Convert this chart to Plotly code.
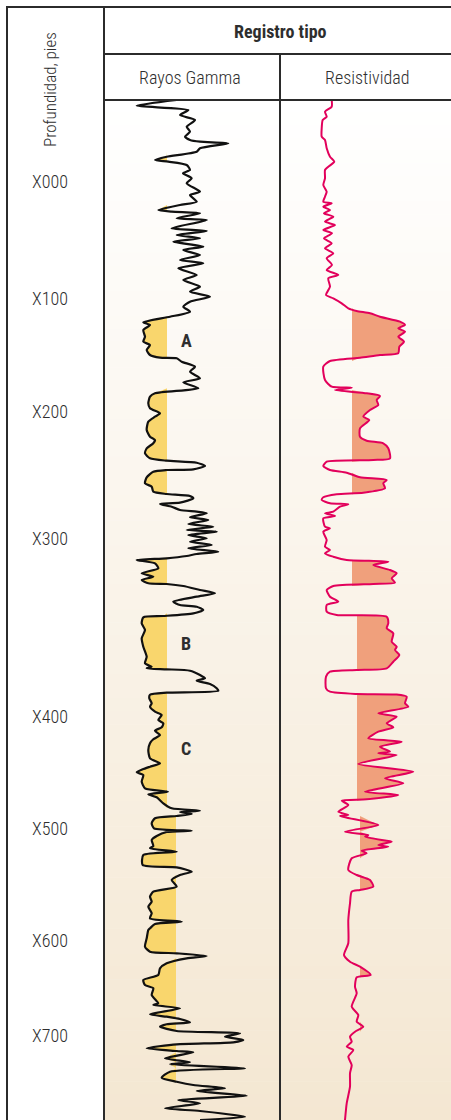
import plotly.graph_objects as go

# ---------------- data (depth in chart units, values in track units) ----------------
gr_depth = [0, 5.7, 10, 15, 20, 26.7, 31.7, 36.7, 40, 41.7, 43.3, 48.3, 51.7, 56.7, 60, 61.7, 65, 70, 73.3, 78.3,
            83.3, 91.7, 95, 101.7, 105, 110, 111.7, 113.3, 118.3, 120, 128.3, 131, 135, 138.3, 141.7, 146.7, 150,
            155, 160, 163.3, 168.3, 175, 180, 186.7, 191.7, 196.7, 201.7, 206.7, 211.7, 216.7, 222.3, 225, 230,
            236.7, 241.7, 245, 250, 255, 257.7, 258.3, 261.7, 266.7, 271.7, 278.3, 282.3, 288.3,
            293.3, 296.7, 303.3, 308.3, 313.3, 316.7, 321.7, 330, 336.7, 340, 343.3, 348.3, 353.3, 358.3, 360.7,
            362.7, 366, 369.3, 370, 371.7, 377.3, 383.3, 386.7, 391.7, 394, 396, 398.3, 402.7, 404, 406.7, 410,
            411.7, 413.3, 417.3, 420, 424, 426.7, 430, 431.7, 435, 438.3, 441.7, 445, 448.3, 451.7, 454, 456,
            458.3, 460, 463.3, 468.3, 473.3, 476.7, 480, 483.3, 484, 486, 490, 493.3, 496.7, 501.7, 505, 506.7,
            510, 513.3, 516, 517.3, 523.3, 530, 538.3, 546.7, 556.7, 563.3, 566.7, 568.3, 569.3, 570.7, 575,
            578.3, 580.7, 584, 588.3,
            590.7, 592.7, 594.7, 598.3, 603.3, 606.7, 611.7, 615, 620, 623.3, 627.3, 630.7, 635, 639.3, 643.3,
            650, 658.3, 663.3, 666.7, 669.3, 672.3, 675, 681.7, 688.3, 691.7, 694.3, 697.3, 703.3, 708.3, 710.7,
            712, 714, 716, 718.3, 723.3, 728.3, 730.7, 732, 736, 740, 746, 748.3, 751.7, 755, 765, 767.3, 771.7,
            775, 780, 786.7, 791.7, 796.7, 801.7, 806.7, 813.3, 818.3, 821.7, 824, 828.3,
            830, 838.3, 846.7, 851.7, 853.3, 856, 858.3, 863.3, 868.3, 875, 880, 885, 888.3, 895, 903.3, 905,
            908.3, 914.3, 916.7, 919, 922.3, 924.3, 926.7, 931, 933.3, 936.7, 940, 942.3, 944.3, 948.3, 951,
            952.3, 958.3, 962.3, 964.3, 968.3, 971.7, 977.7, 981.7, 985, 988.3, 991, 995.7, 1000, 1003.3,
            1008.3, 1011, 1016.7, 1020]
gr_api = [72.7, 32.7, 84.3, 76, 91, 82.7, 86, 81, 86, 96, 124.3, 96, 92.7, 62.7, 51, 64.3, 82.7, 86, 79, 87.7,
          82.7, 96, 86, 92.7, 76, 54.3, 67.7, 96, 72.7, 102.7, 67.7, 102.7, 72.7, 96, 69.3, 99.3, 79.3,
          96, 76, 99.3, 74.3, 92.7, 79.3, 96, 86, 106, 86, 79.3, 86, 66, 39.3, 46, 39.3,
          41, 39.3, 46, 42.7, 46, 56, 72.7, 77.7, 91, 86, 96, 79.3, 94.3,
          51, 46, 44.3, 46, 56, 51, 44.3, 42.7, 46, 51, 49.3, 42.7, 41, 46, 62.7,
          92.7, 101, 89.3, 62.7, 49.3, 42.7, 41, 47.7, 49.3, 62.7, 86, 89.3, 76, 56, 67.7, 76,
          92.7, 102.7, 86, 104.3, 84.3, 109.3, 82.7, 112.7, 84.3, 102.7, 86, 107.7, 84.3, 114.3, 92.7, 82.7,
          62.7, 32.7, 51, 54.3, 37.7, 49.3, 37.7, 44.3, 62.7, 79.3, 96, 111, 92.7, 69.3, 76, 92.7,
          99.3, 89.3, 59.3, 39.3, 37.7, 41, 37.7, 39.3, 42.7, 41, 47.7, 42.7, 62.7, 86, 96,
          101, 92.7, 106, 112.7,
          114.3, 62.7, 46, 45.3, 47.7, 46, 51, 57.7, 54.3, 59.3, 57.7, 51, 56, 49.3, 46,
          44.3, 46, 56, 46, 38.7, 32.7, 39.3, 37.7, 41, 64, 44.3, 52.7, 59.3, 67.7, 96,
          76, 87.7, 72.7, 51, 47.7, 50, 87.7, 62.7, 52.7, 47.7, 49.3, 46, 72.7, 39.3, 38.7, 72.7, 87.7,
          76, 67.7, 72.7, 49.3, 46, 47.7, 44.3, 47.7, 46, 77.7, 51, 46,
          44.3, 42.7, 41, 46, 72.7, 102.7, 82.7, 62.7, 56, 54.3, 39.3, 41, 49.3, 47.7, 54.3, 49.3,
          76, 46, 62.7, 76, 86, 62.7, 56, 72.7, 136, 121, 139.3, 129.3, 72.7, 42.7, 72.7,
          89.3, 61, 86, 66, 141, 66, 57.7, 72.7, 89.3, 121, 92.7, 142.7, 74.3, 96,
          61, 96, 141, 96]

res_depth = [0, 6.7, 11.7, 16.7, 20, 28.3, 36.7, 40, 48.3, 56.7, 61.7, 66.7, 70, 78.3, 85, 91.7, 96.7, 101.7,
             103.3, 106.7, 110, 113.3, 116.7, 121.7, 125, 130, 133.3, 138.3, 143.3, 148.3, 153.3, 158.3, 165,
             170, 175, 178.3, 186.7, 195, 198.3, 203.3, 208.3, 211, 213.3, 216.7, 221.7, 225, 228.3, 231.7,
             236.7, 241.7, 246.7, 253.3, 255, 257.7, 261, 266.7, 280, 286.7, 287.7, 290, 293.3,
             296, 300, 305, 310, 316.7, 320, 328.3, 336.7, 340.7, 343.3, 348.3, 358.3, 360, 361.7, 366, 370,
             372.7, 377.3, 380, 383.3, 388.3, 392.7, 394.3, 397.3, 400, 403.3, 404.3, 406.7, 411.7, 413.3, 416,
             418.3, 426.7, 428.3, 431.7, 440, 446.7, 450, 453.3, 456.7, 460, 461.7, 465, 470, 473.3, 478.3,
             482.7, 484, 486, 490, 496.7, 501.7, 505, 511.7, 515, 516.7, 523.3, 528.3, 533.3, 541.7, 546.7,
             550, 555, 561.7, 568.3, 570, 571.7, 576.7, 588.3,
             591.7, 594, 594.5, 596.7, 603.3, 606.7, 613.3, 616.7, 623.3, 627.3, 631.7, 638.3, 641.7, 646.7,
             651.7, 653.3, 655, 664, 671.7, 678.3, 683.3, 691.7, 695, 699.3, 700.7, 705, 711.7, 715, 716, 725,
             731.7, 735, 736.7, 740.7, 741.7, 745, 746.7, 750.7, 753.3, 758.3, 770, 775, 780, 786.7, 790,
             791.7, 803.3, 820, 843.3, 855, 861.7, 866.7, 875, 877.3, 886.7, 893.3, 906.7, 915, 921.7, 926.7,
             931.7, 936.7, 941.7, 946.7, 950, 956.7, 965, 973.3, 986.7, 1003.3, 1020]
res_ohm = [51.7, 51.7, 45, 46.7, 42.7, 41.7, 41.7, 45, 46.7, 50, 54.3, 48.3, 45, 45, 43.3, 46.7, 45, 43.3,
           51.7, 43.3, 50, 44, 53.3, 45, 55, 43.3, 52, 44, 51.7, 45, 53.3, 46.7, 52,
           46.7, 58.3, 48.3, 50, 46, 53.3, 61.7, 68.3, 76.7, 90, 100, 120, 125, 118.3, 125,
           118.3, 124, 119.3, 118.3, 100, 80, 50, 43.3, 45, 51.7, 71.7, 55, 86.7,
           100, 96.7, 98.3, 90, 83.3, 89.3, 80, 80, 86.7, 103.3, 108.3, 110, 93.3, 46.7, 43.3, 50,
           66.7, 80, 106.7, 103.3, 105, 83.3, 56.7, 43.3, 41.7, 50, 68.3, 60, 53.3, 45, 55,
           43.3, 45, 50, 43.3, 46.7, 45, 50, 45, 53.3, 66.7, 108.3, 93.3, 110, 116.7, 111.7,
           115, 93.3, 53.3, 46.7, 50, 58.3, 46.7, 46.7, 56.7, 106.7, 108.3, 106.7, 113.3, 111.7, 116.7,
           115, 119.3, 113.3, 106.7, 76.7, 50, 46, 46,
           50, 76.7, 116.7, 126.7, 125, 128.3, 98.3, 116.7, 106.7, 113.3, 98.3, 88.3, 121.7, 100,
           110, 98.3, 116.7, 78.3, 133.3, 105, 123.3, 85, 118.3, 86.7, 61.7, 68.3, 58.3, 68.3, 60, 98.3,
           65, 88.3, 85, 106.7, 111.7, 98.3, 108.3, 81.7, 86.7, 71.7, 68.3, 76.7, 90, 93.3, 80,
           71.7, 70, 68.3, 68.3, 64, 70, 80, 90.7, 76.7, 75, 76.7, 71.7, 78.3, 76.7, 83.3,
           75, 70, 71.7, 66.7, 73.3, 68.3, 71.7, 70, 70, 66.7, 65]

# sand / reservoir cut-offs (step values by depth)
gr_cut_depth = [0, 710]
gr_cut_val = [63, 72]
gr_fill_range = [30, 985]
res_cut_depth = [0, 500, 700]
res_cut_val = [72, 77, 80]
res_fill_range = [0, 1020]

depth_ticks = [81, 198, 311, 438, 616, 728, 840, 935]
depth_labels = ["X000", "X100", "X200", "X300", "X400", "X500", "X600", "X700"]

zone_names = ["A", "B", "C"]
zone_depth = [240, 543, 648]
zone_gr = [82, 82, 82]

# ---------------- styling ----------------
W, H = 451, 1120
TOP = 100
FONT = "Liberation Sans Narrow, Roboto Condensed, Arial Narrow, Roboto, sans-serif"
TXT = "#2e2e2e"
YELLOW = "#F9D66D"
SALMON = "#F0A07C"
RED = "#E2005B"
SPL = dict(shape="spline", smoothing=0.6)


def step_value(d, depths, vals):
    v = vals[0]
    for i in range(len(depths)):
        if d >= depths[i]:
            v = vals[i]
    return v


def fill_runs(depths, vals, cut_d, cut_v, drange, below):
    """Closed polygons between the curve and the cut-off wherever the curve is on the 'pay' side."""
    n = len(depths)

    def ok(k):
        c = step_value(depths[k], cut_d, cut_v)
        inside = vals[k] < c if below else vals[k] > c
        return inside and drange[0] <= depths[k] <= drange[1]

    polys = []
    i = 0
    while i < n:
        if ok(i):
            j = i
            while j + 1 < n and ok(j + 1):
                j += 1
            c = step_value(depths[i], cut_d, cut_v)
            xs, ys = [], []
            if i > 0:
                xs.append(c)
                ys.append(depths[i - 1])
            xs += list(vals[i:j + 1])
            ys += list(depths[i:j + 1])
            if j + 1 < n:
                xs.append(c)
                ys.append(depths[j + 1])
            polys.append((xs, ys))
            i = j + 1
        else:
            i += 1
    return polys


fig = go.Figure()

for xs, ys in fill_runs(gr_depth, gr_api, gr_cut_depth, gr_cut_val, gr_fill_range, True):
    fig.add_trace(go.Scatter(x=xs, y=ys, mode="lines", fill="toself", fillcolor=YELLOW,
                             line=dict(width=0, color=YELLOW), hoverinfo="skip", xaxis="x", yaxis="y"))
for xs, ys in fill_runs(res_depth, res_ohm, res_cut_depth, res_cut_val, res_fill_range, False):
    fig.add_trace(go.Scatter(x=xs, y=ys, mode="lines", fill="toself", fillcolor=SALMON,
                             line=dict(width=0, color=SALMON), hoverinfo="skip", xaxis="x2", yaxis="y"))

# curves
fig.add_trace(go.Scatter(x=gr_api, y=gr_depth, mode="lines", line=dict(color="#111111", width=2.2, **SPL),
                         xaxis="x", yaxis="y", name="Rayos Gamma"))
fig.add_trace(go.Scatter(x=res_ohm, y=res_depth, mode="lines", line=dict(color=RED, width=2, **SPL),
                         xaxis="x2", yaxis="y", name="Resistividad"))

# background gradient bands for the tracks
N = 80
c0 = (255, 255, 255)
c1 = (244, 231, 210)
dom_top = 1 - TOP / H
shapes = []
for i in range(N):
    t = (i + 0.5) / N
    col = tuple(round(c0[k] + (c1[k] - c0[k]) * t) for k in range(3))
    shapes.append(dict(type="rect", xref="paper", yref="paper", x0=104 / W, x1=1,
                       y0=dom_top * (1 - (i + 1) / N), y1=dom_top * (1 - i / N) + 0.0005,
                       fillcolor="rgb(%d,%d,%d)" % col, line=dict(width=0), layer="below"))


def px_line(x0, y0, x1, y1, w=2):
    return dict(type="line", xref="paper", yref="paper", x0=x0 / W, x1=x1 / W, y0=1 - y0 / H, y1=1 - y1 / H,
                line=dict(color="#2b2b2b", width=w), layer="above")


shapes += [
    px_line(6, 7, 451, 7),
    px_line(7, 6, 7, 1120),
    px_line(104, 7, 104, 1120),
    px_line(104, 54, 451, 54),
    px_line(104, 100, 451, 100),
    px_line(280, 54, 280, 1120),
]

ann = [
    dict(text="<b>Registro tipo</b>", x=280 / W, y=1 - 31 / H, font=dict(size=18, family=FONT, color=TXT)),
    dict(text="Rayos Gamma", x=190 / W, y=1 - 78 / H, font=dict(size=18, family=FONT, color=TXT, weight=300)),
    dict(text="Resistividad", x=367 / W, y=1 - 78 / H, font=dict(size=18, family=FONT, color=TXT, weight=300)),
    dict(text="Profundidad, pies", x=50 / W, y=1 - 90 / H, textangle=-90,
         font=dict(size=17, family=FONT, color=TXT, weight=300)),
]
for a in ann:
    a.update(xref="paper", yref="paper", showarrow=False, xanchor="center", yanchor="middle")

for d, lab in zip(depth_ticks, depth_labels):
    ann.append(dict(text=lab, x=50 / W, y=d, xref="paper", yref="y", showarrow=False,
                    xanchor="center", yanchor="middle",
                    font=dict(size=18, family=FONT, color=TXT, weight=300)))
for n, d, g in zip(zone_names, zone_depth, zone_gr):
    ann.append(dict(text="<b>%s</b>" % n, x=g, y=d, xref="x", yref="y", showarrow=False,
                    xanchor="center", yanchor="middle", font=dict(size=18, family=FONT, color=TXT)))

fig.update_layout(
    width=W, height=H, margin=dict(l=0, r=0, t=0, b=0),
    paper_bgcolor="white", plot_bgcolor="rgba(0,0,0,0)", showlegend=False,
    xaxis=dict(domain=[104 / W, 280 / W], range=[0, 176], visible=False, fixedrange=True),
    xaxis2=dict(domain=[280 / W, 1], range=[0, 171], visible=False, anchor="y", fixedrange=True),
    yaxis=dict(domain=[0, dom_top], range=[1020, 0], visible=False, fixedrange=True),
    shapes=shapes, annotations=ann,
)

fig.write_html("out.html", config={"displayModeBar": False},
               post_script="document.body.style.margin='0';document.body.style.overflow='hidden';")
